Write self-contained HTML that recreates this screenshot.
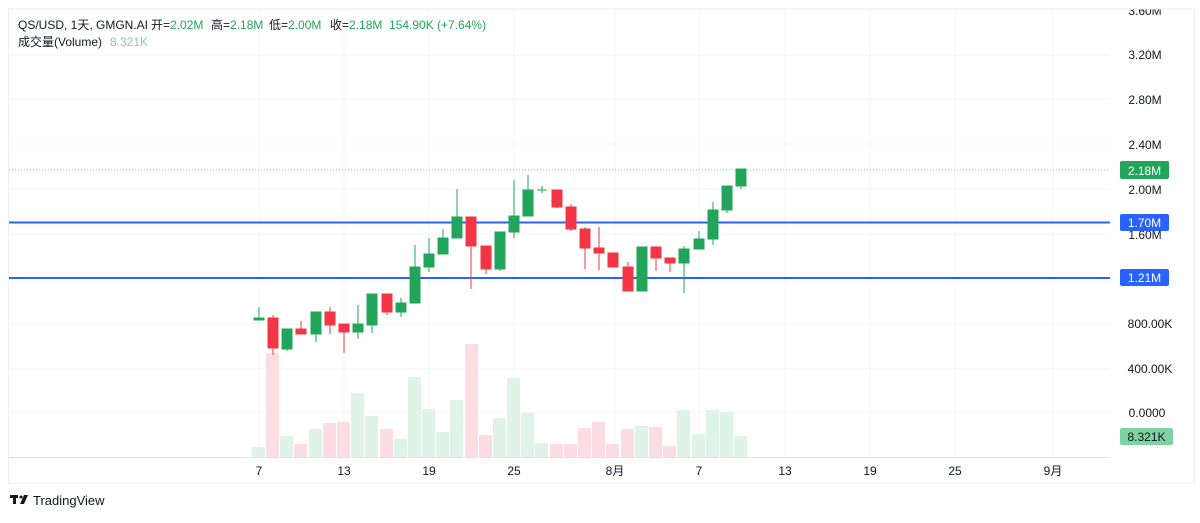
<!DOCTYPE html>
<html><head><meta charset="utf-8"><style>
body{margin:0;background:#fff;width:1200px;height:518px;overflow:hidden;font-family:"Liberation Sans","Noto Sans CJK SC",sans-serif}
svg text{font-family:"Liberation Sans","Noto Sans CJK SC",sans-serif}
</style></head><body>
<svg width="1200" height="518" viewBox="0 0 1200 518" xmlns="http://www.w3.org/2000/svg">
<rect x="0" y="0" width="1200" height="518" fill="#fff"/>
<g font-size="12" fill="#131722" text-anchor="middle">
<text x="1145" y="15">3.60M</text>
</g>
<rect x="0" y="0" width="1200" height="9" fill="#fff"/>
<line x1="8" y1="9" x2="1195" y2="9" stroke="#eceef2"/>
<line x1="8" y1="457.5" x2="1110" y2="457.5" stroke="#e0e3eb"/>
<line x1="8" y1="483.5" x2="1195" y2="483.5" stroke="#eceef2"/>
<line x1="8.5" y1="9" x2="8.5" y2="483" stroke="#eceef2"/>
<line x1="1194.5" y1="9" x2="1194.5" y2="483" stroke="#eceef2"/>
<g stroke="#f3f4f6">
<line x1="9" y1="55" x2="1110" y2="55"/><line x1="9" y1="99" x2="1110" y2="99"/><line x1="9" y1="144" x2="1110" y2="144"/><line x1="9" y1="189" x2="1110" y2="189"/><line x1="9" y1="234" x2="1110" y2="234"/><line x1="9" y1="324" x2="1110" y2="324"/><line x1="9" y1="369" x2="1110" y2="369"/><line x1="9" y1="412" x2="1110" y2="412"/>
<line x1="259" y1="9" x2="259" y2="457"/><line x1="344" y1="9" x2="344" y2="457"/><line x1="429" y1="9" x2="429" y2="457"/><line x1="514" y1="9" x2="514" y2="457"/><line x1="615" y1="9" x2="615" y2="457"/><line x1="699" y1="9" x2="699" y2="457"/><line x1="785" y1="9" x2="785" y2="457"/><line x1="870" y1="9" x2="870" y2="457"/><line x1="955" y1="9" x2="955" y2="457"/><line x1="1053" y1="9" x2="1053" y2="457"/>
</g>
<!-- volume -->
<g>
<rect x="252" y="447" width="13" height="10" fill="#dff3e6"/>
<rect x="266" y="353" width="13" height="104" fill="#fcdde2"/>
<rect x="280" y="436" width="13" height="21" fill="#dff3e6"/>
<rect x="294" y="444" width="13" height="13" fill="#fcdde2"/>
<rect x="309" y="429" width="13" height="28" fill="#dff3e6"/>
<rect x="323" y="423" width="13" height="34" fill="#fcdde2"/>
<rect x="337" y="422" width="13" height="35" fill="#fcdde2"/>
<rect x="351" y="393" width="13" height="64" fill="#dff3e6"/>
<rect x="365" y="416" width="13" height="41" fill="#dff3e6"/>
<rect x="380" y="429" width="13" height="28" fill="#fcdde2"/>
<rect x="394" y="439" width="13" height="18" fill="#dff3e6"/>
<rect x="408" y="377" width="13" height="80" fill="#dff3e6"/>
<rect x="422" y="409" width="13" height="48" fill="#dff3e6"/>
<rect x="436" y="432" width="13" height="25" fill="#dff3e6"/>
<rect x="450" y="400" width="13" height="57" fill="#dff3e6"/>
<rect x="465" y="344" width="13" height="113" fill="#fcdde2"/>
<rect x="479" y="435" width="13" height="22" fill="#fcdde2"/>
<rect x="493" y="418" width="13" height="39" fill="#dff3e6"/>
<rect x="507" y="378" width="13" height="79" fill="#dff3e6"/>
<rect x="521" y="413" width="13" height="44" fill="#dff3e6"/>
<rect x="535" y="443" width="13" height="14" fill="#dff3e6"/>
<rect x="550" y="444" width="13" height="13" fill="#fcdde2"/>
<rect x="564" y="444" width="13" height="13" fill="#fcdde2"/>
<rect x="578" y="428" width="13" height="29" fill="#fcdde2"/>
<rect x="592" y="422" width="13" height="35" fill="#fcdde2"/>
<rect x="606" y="444" width="13" height="13" fill="#fcdde2"/>
<rect x="621" y="429" width="13" height="28" fill="#fcdde2"/>
<rect x="635" y="426" width="13" height="31" fill="#dff3e6"/>
<rect x="649" y="427" width="13" height="30" fill="#fcdde2"/>
<rect x="663" y="446" width="13" height="11" fill="#fcdde2"/>
<rect x="677" y="410" width="13" height="47" fill="#dff3e6"/>
<rect x="692" y="434" width="13" height="23" fill="#dff3e6"/>
<rect x="706" y="410" width="13" height="47" fill="#dff3e6"/>
<rect x="720" y="412" width="13" height="45" fill="#dff3e6"/>
<rect x="734" y="436" width="13" height="21" fill="#dff3e6"/>
</g>
<!-- lines -->
<line x1="9" y1="170" x2="1110" y2="170" stroke="#22a55a" stroke-dasharray="1,2" stroke-width="1" opacity="0.6"/>
<line x1="9" y1="222.5" x2="1110" y2="222.5" stroke="#2962ff" stroke-width="2"/>
<line x1="9" y1="278" x2="1110" y2="278" stroke="#2962ff" stroke-width="2"/>
<!-- candles -->
<g stroke-width="1">
<g fill="#22a55a" stroke="#22a55a">
<line x1="259" y1="307" x2="259" y2="320"/><rect x="254" y="318" width="10" height="2"/>
<line x1="287" y1="329" x2="287" y2="351"/><rect x="282" y="329" width="10" height="20"/>
<line x1="316" y1="312" x2="316" y2="342"/><rect x="311" y="312" width="10" height="22"/>
<line x1="358" y1="305" x2="358" y2="339"/><rect x="353" y="324" width="10" height="8"/>
<line x1="372" y1="294" x2="372" y2="333"/><rect x="367" y="294" width="10" height="31"/>
<line x1="401" y1="298" x2="401" y2="317"/><rect x="396" y="303" width="10" height="9"/>
<line x1="415" y1="245" x2="415" y2="303"/><rect x="410" y="267" width="10" height="36"/>
<line x1="429" y1="238" x2="429" y2="272"/><rect x="424" y="254" width="10" height="13"/>
<line x1="443" y1="229" x2="443" y2="254"/><rect x="438" y="238" width="10" height="16"/>
<line x1="457" y1="189" x2="457" y2="238"/><rect x="452" y="217" width="10" height="21"/>
<line x1="500" y1="232" x2="500" y2="271"/><rect x="495" y="232" width="10" height="37"/>
<line x1="514" y1="180" x2="514" y2="238"/><rect x="509" y="216" width="10" height="16"/>
<line x1="528" y1="175" x2="528" y2="216"/><rect x="523" y="190" width="10" height="26"/>
<line x1="542" y1="186" x2="542" y2="193"/><line x1="537" y1="190" x2="547" y2="190"/>
<line x1="642" y1="247" x2="642" y2="291"/><rect x="637" y="247" width="10" height="44"/>
<line x1="684" y1="246" x2="684" y2="293"/><rect x="679" y="249" width="10" height="14"/>
<line x1="699" y1="231" x2="699" y2="249"/><rect x="694" y="239" width="10" height="10"/>
<line x1="713" y1="202" x2="713" y2="245"/><rect x="708" y="210" width="10" height="29"/>
<line x1="727" y1="186" x2="727" y2="213"/><rect x="722" y="186" width="10" height="24"/>
<line x1="741" y1="169" x2="741" y2="189"/><rect x="736" y="169" width="10" height="17"/>
</g>
<g fill="#f23645" stroke="#f23645">
<line x1="273" y1="315" x2="273" y2="355"/><rect x="268" y="318" width="10" height="30"/>
<line x1="301" y1="321" x2="301" y2="334"/><rect x="296" y="329" width="10" height="5"/>
<line x1="330" y1="307" x2="330" y2="334"/><rect x="325" y="312" width="10" height="13"/>
<line x1="344" y1="324" x2="344" y2="353"/><rect x="339" y="324" width="10" height="8"/>
<line x1="387" y1="294" x2="387" y2="315"/><rect x="382" y="294" width="10" height="18"/>
<line x1="471" y1="217" x2="471" y2="289"/><rect x="466" y="217" width="10" height="29"/>
<line x1="486" y1="246" x2="486" y2="274"/><rect x="481" y="246" width="10" height="23"/>
<line x1="557" y1="190" x2="557" y2="208"/><rect x="552" y="190" width="10" height="17"/>
<line x1="571" y1="204" x2="571" y2="231"/><rect x="566" y="207" width="10" height="22"/>
<line x1="585" y1="227" x2="585" y2="269"/><rect x="580" y="229" width="10" height="19"/>
<line x1="599" y1="227" x2="599" y2="270"/><rect x="594" y="248" width="10" height="5"/>
<line x1="613" y1="253" x2="613" y2="267"/><rect x="608" y="253" width="10" height="14"/>
<line x1="628" y1="262" x2="628" y2="291"/><rect x="623" y="267" width="10" height="24"/>
<line x1="656" y1="247" x2="656" y2="271"/><rect x="651" y="247" width="10" height="11"/>
<line x1="670" y1="258" x2="670" y2="272"/><rect x="665" y="258" width="10" height="5"/>
</g>
</g>
<!-- right axis -->
<g font-size="12" fill="#131722" text-anchor="middle">
<text x="1145" y="59">3.20M</text>
<text x="1145" y="104">2.80M</text>
<text x="1145" y="149">2.40M</text>
<text x="1145" y="194">2.00M</text>
<text x="1145" y="239">1.60M</text>
<text x="1150" y="328">800.00K</text>
<text x="1150" y="373">400.00K</text>
<text x="1147" y="417">0.0000</text>
</g>
<rect x="1120" y="161" width="49" height="18" rx="2" fill="#22a55a"/>
<text x="1144.5" y="175" font-size="12" fill="#fff" text-anchor="middle">2.18M</text>
<rect x="1120" y="214" width="49" height="17" rx="2" fill="#2962ff"/>
<text x="1144.5" y="227" font-size="12" fill="#fff" text-anchor="middle">1.70M</text>
<rect x="1120" y="269" width="49" height="17" rx="2" fill="#2962ff"/>
<text x="1144.5" y="282" font-size="12" fill="#fff" text-anchor="middle">1.21M</text>
<rect x="1120" y="428" width="53" height="17" rx="2" fill="#7fd3a0"/>
<text x="1146.5" y="441" font-size="12" fill="#131722" text-anchor="middle">8.321K</text>
<!-- time axis -->
<g font-size="12" fill="#131722" text-anchor="middle">
<text x="259" y="475">7</text><text x="344" y="475">13</text><text x="429" y="475">19</text><text x="514" y="475">25</text><text x="615" y="475">8月</text><text x="699" y="475">7</text><text x="785" y="475">13</text><text x="870" y="475">19</text><text x="955" y="475">25</text><text x="1053" y="475">9月</text>
</g>
<!-- legend -->
<g font-size="12" fill="#131722">
<text x="18" y="29">QS/USD, 1天, GMGN.AI</text>
<text x="151" y="29">开=<tspan fill="#22a55a">2.02M</tspan></text>
<text x="211" y="29">高=<tspan fill="#22a55a">2.18M</tspan></text>
<text x="269" y="29">低=<tspan fill="#22a55a">2.00M</tspan></text>
<text x="330" y="29">收=<tspan fill="#22a55a">2.18M</tspan></text>
<text x="389" y="29" fill="#22a55a">154.90K (+7.64%)</text>
<text x="18" y="46">成交量(Volume)</text>
<text x="110" y="46" fill="#7fd3a0">8.321K</text>
</g>
<!-- logo -->
<g fill="#131722"><rect x="10" y="495" width="8" height="3"/><rect x="13" y="495" width="3" height="9"/><polygon points="20,504 24,495 28,495 24,504"/><circle cx="21" cy="497" r="1.5"/></g>
<text x="33" y="505" font-size="13" fill="#131722">TradingView</text>
</svg>
</body></html>
